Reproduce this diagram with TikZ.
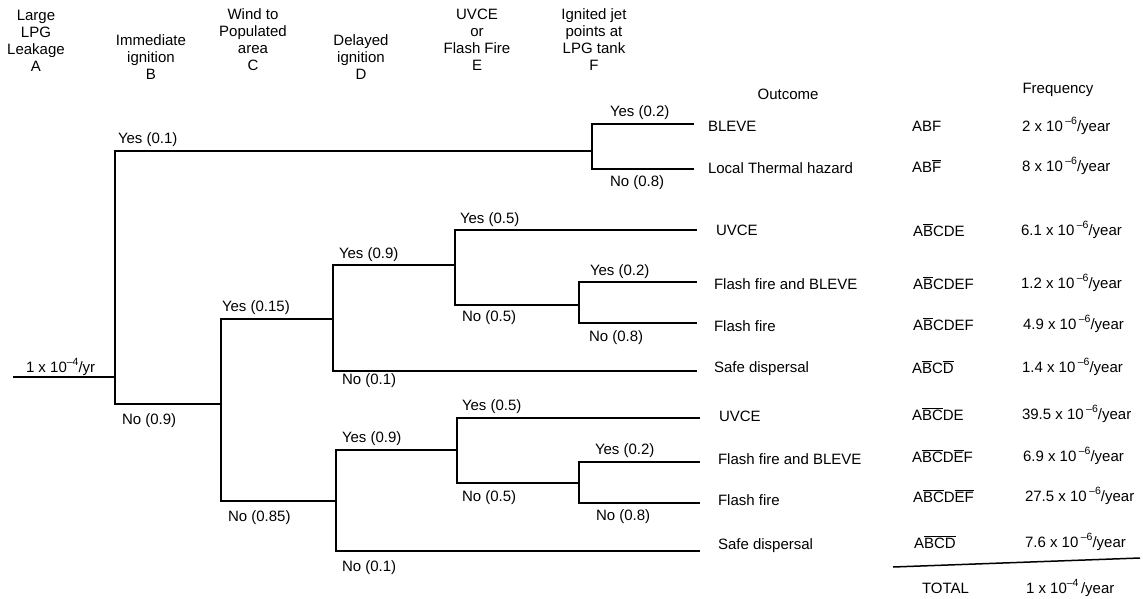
\documentclass[tikz,border=0pt]{standalone}
\usepackage{fontspec}
\setmainfont{Liberation Sans}
\newcommand{\pw}[1]{\raisebox{0.42em}{\fontsize{10.5}{10.5}\selectfont #1}}
\newcommand{\ob}[1]{$\overline{\mbox{#1}}$}
\begin{document}
\begin{tikzpicture}[x=1pt,y=-1pt,
  every node/.style={font=\fontsize{15}{17}\selectfont, inner sep=0pt, outer sep=0pt},
  tree/.style={line width=1.2pt, line join=miter},
  lab/.style={anchor=west},
  hd/.style={align=center, anchor=center}]
\useasboundingbox (0,0) rectangle (1143,599);

% headers
\node[hd] (hA) at (36,41) {Large\\LPG\\Leakage\\A};
\node[hd] (hB) at (151,57) {Immediate\\ignition\\B};
\node[hd] (hC) at (253,40) {Wind to\\Populated\\area\\C};
\node[hd] (hD) at (361,57) {Delayed\\ignition\\D};
\node[hd] (hE) at (477,40) {UVCE\\or\\Flash Fire\\E};
\node[hd] (hF) at (594,40) {Ignited jet\\points at\\LPG tank\\F};
\node[hd] (hO) at (788,94) {Outcome};
\node[hd] (hQ) at (1058,90) {Frequency};

% junctions and ends
\coordinate (S) at (13,377);
\coordinate (B) at (115,377);
\coordinate (F1) at (592,151);
\coordinate (C) at (221,404);
\coordinate (D1) at (333,319);
\coordinate (E1) at (455,265);
\coordinate (F2) at (579,305);
\coordinate (D2) at (336,501);
\coordinate (E2) at (457,450);
\coordinate (F3) at (579,483);
\coordinate (o1) at (694,124);
\coordinate (o2) at (694,169);
\coordinate (o3) at (697,230);
\coordinate (o4) at (697,282);
\coordinate (o5) at (697,323);
\coordinate (o6) at (697,371);
\coordinate (o7) at (700,418);
\coordinate (o8) at (700,462);
\coordinate (o9) at (700,503);
\coordinate (o10) at (700,551);

\draw[tree] (S) -- (B);
\draw[tree] (F1) -| (B) |- (C);
\draw[tree] (o1) -| (F1) |- (o2);
\draw[tree] (D1) -| (C) |- (D2);
\draw[tree] (E1) -| (D1) |- (o6);
\draw[tree] (o3) -| (E1) |- (F2);
\draw[tree] (o4) -| (F2) |- (o5);
\draw[tree] (E2) -| (D2) |- (o10);
\draw[tree] (o7) -| (E2) |- (F3);
\draw[tree] (o8) -| (F3) |- (o9);

% branch labels
\node[lab] (l0) at (26,367) {1 x 10\pw{–4}/yr};
\node[lab] (l1) at (118,140) {Yes (0.1)};
\node[lab] (l2) at (122,421) {No (0.9)};
\node[lab] (l3) at (222,308) {Yes (0.15)};
\node[lab] (l4) at (228,518) {No (0.85)};
\node[lab] (l5) at (339,255) {Yes (0.9)};
\node[lab] (l6) at (342,381) {No (0.1)};
\node[lab] (l7) at (460,220) {Yes (0.5)};
\node[lab] (l8) at (462,318) {No (0.5)};
\node[lab] (l9) at (610,113) {Yes (0.2)};
\node[lab] (l10) at (610,183) {No (0.8)};
\node[lab] (l11) at (590,272) {Yes (0.2)};
\node[lab] (l12) at (589,338) {No (0.8)};
\node[lab] (l13) at (342,439) {Yes (0.9)};
\node[lab] (l14) at (462,407) {Yes (0.5)};
\node[lab] (l15) at (462,498) {No (0.5)};
\node[lab] (l16) at (595,451) {Yes (0.2)};
\node[lab] (l17) at (596,517) {No (0.8)};
\node[lab] (l18) at (342,568) {No (0.1)};

% outcomes
\node[lab] (t1) at (708,126) {BLEVE};
\node[lab] (t2) at (708,168) {Local Thermal hazard};
\node[lab] (t3) at (716,230) {UVCE};
\node[lab] (t4) at (714,284) {Flash fire and BLEVE};
\node[lab] (t5) at (714,326) {Flash fire};
\node[lab] (t6) at (714,369) {Safe dispersal};
\node[lab] (t7) at (719,416) {UVCE};
\node[lab] (t8) at (718,459) {Flash fire and BLEVE};
\node[lab] (t9) at (718,500) {Flash fire};
\node[lab] (t10) at (718,546) {Safe dispersal};

% codes
\node[lab] (c1) at (912,126) {ABF};
\node[lab] (c2) at (912,166) {AB\ob{F}};
\node[lab] (c3) at (913,230) {A\ob{B}CDE};
\node[lab] (c4) at (913,283) {A\ob{B}CDEF};
\node[lab] (c5) at (913,324) {A\ob{B}CDEF};
\node[lab] (c6) at (912,367) {A\ob{B}C\ob{D}};
\node[lab] (c7) at (912,414) {A\ob{B}\ob{C}DE};
\node[lab] (c8) at (912,456) {A\ob{B}\ob{C}D\ob{E}F};
\node[lab] (c9) at (913,496) {A\ob{B}\ob{C}D\ob{E}\ob{F}};
\node[lab] (c10) at (914,542) {A\ob{B}\ob{C}\ob{D}};
\node[lab] (c11) at (922,588) {TOTAL};

% frequencies
\node[lab] (q1) at (1022,126) {2 x 10\,\pw{–6}/year};
\node[lab] (q2) at (1022,166) {8 x 10\,\pw{–6}/year};
\node[lab] (q3) at (1021,230) {6.1 x 10\,\pw{–6}/year};
\node[lab] (q4) at (1021,283) {1.2 x 10\,\pw{–6}/year};
\node[lab] (q5) at (1023,324) {4.9 x 10\,\pw{–6}/year};
\node[lab] (q6) at (1022,367) {1.4 x 10\,\pw{–6}/year};
\node[lab] (q7) at (1022,414) {39.5 x 10\,\pw{–6}/year};
\node[lab] (q8) at (1023,456) {6.9 x 10\,\pw{–6}/year};
\node[lab] (q9) at (1025,496) {27.5 x 10\,\pw{–6}/year};
\node[lab] (q10) at (1025,542) {7.6 x 10\,\pw{–6}/year};
\node[lab] (q11) at (1026,588) {1 x 10\pw{–4}\,/year};

\coordinate (T1) at (893,567);
\coordinate (T2) at (1140,558);
\draw[line width=1.5pt] (T1) -- (T2);
\end{tikzpicture}
\end{document}
